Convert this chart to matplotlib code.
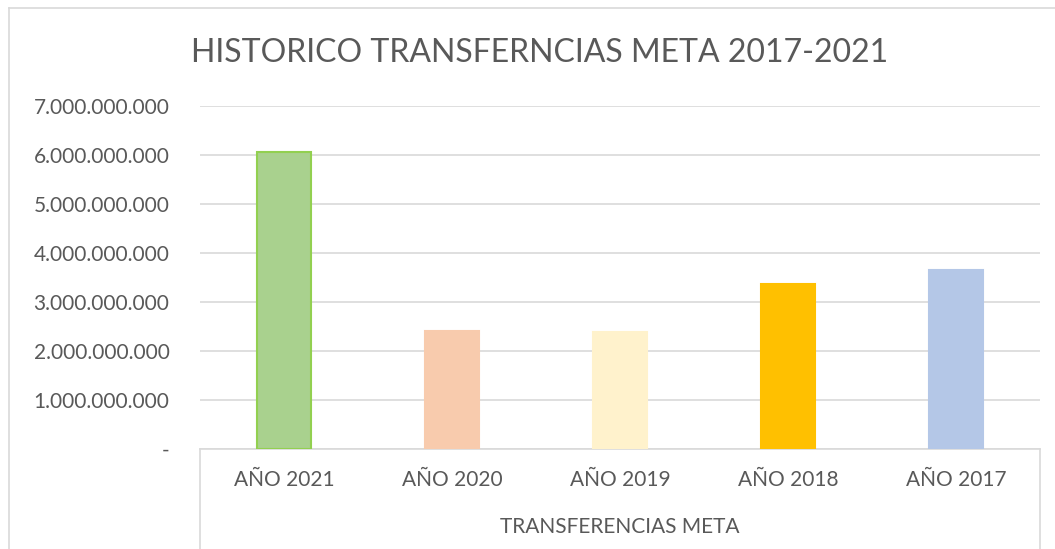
import matplotlib.pyplot as plt
from matplotlib.lines import Line2D
from matplotlib.ticker import FuncFormatter

categories = ["AÑO 2021", "AÑO 2020", "AÑO 2019", "AÑO 2018", "AÑO 2017"]
values = [6.07e9, 2.40e9, 2.39e9, 3.37e9, 3.66e9]
colors = ["#A9D18E", "#F8CBAD", "#FFF2CC", "#FFC000", "#B4C7E7"]
edges = ["#92D050", "#F8CBAD", "#FFF2CC", "#FFC000", "#B4C7E7"]
group_label = "TRANSFERENCIAS META"
title = "HISTORICO TRANSFERNCIAS META 2017-2021"

plt.rcParams["font.family"] = ["Lato", "DejaVu Sans"]
text_color = "#595959"
grid_color = "#D9D9D9"

W, H = 1055, 549
fig = plt.figure(figsize=(W / 100, H / 100), dpi=100)
ax = fig.add_axes([200 / W, 1 - 449 / H, 840 / W, 343 / H])

x = range(len(categories))
ax.bar(x, values, width=0.32, color=colors, edgecolor=edges, linewidth=1.5, zorder=3)
ax.set_xlim(-0.5, len(categories) - 0.5)
ax.set_ylim(0, 7e9)
ax.set_yticks([i * 1e9 for i in range(8)])


def fmt(v, _pos):
    if v == 0:
        return "-"
    return f"{v:,.0f}".replace(",", ".")


ax.yaxis.set_major_formatter(FuncFormatter(fmt))
ax.grid(axis="y", color=grid_color, linewidth=1.2, zorder=0)
for side in ["top", "right", "left"]:
    ax.spines[side].set_visible(False)
ax.spines["bottom"].set_color(grid_color)
ax.spines["bottom"].set_linewidth(1.2)
ax.tick_params(axis="y", length=0, pad=22, labelsize=15, labelcolor=text_color)
ax.tick_params(axis="x", length=0, pad=15, labelsize=15, labelcolor=text_color)
ax.set_xticks(list(x))
ax.set_xticklabels(categories)

# multi-level category box
bot = -0.32
for xa in (0, 1):
    ax.add_line(Line2D([xa, xa], [0, bot], transform=ax.transAxes, color=grid_color,
                       linewidth=1.2, clip_on=False))
ax.text(0.5, (449 - 527) / 343, group_label, transform=ax.transAxes, ha="center",
        va="center", fontsize=15, color=text_color)

fig.text(540 / W, 1 - 53 / H, title, ha="center", va="center", fontsize=23,
         color=text_color)

# chart border
fig.add_artist(Line2D([9 / W, 9 / W], [0, 1 - 8 / H], transform=fig.transFigure,
                      color=grid_color, linewidth=1.2))
fig.add_artist(Line2D([9 / W, 1], [1 - 8 / H, 1 - 8 / H], transform=fig.transFigure,
                      color=grid_color, linewidth=1.2))

fig.savefig("out.png", dpi=100)
